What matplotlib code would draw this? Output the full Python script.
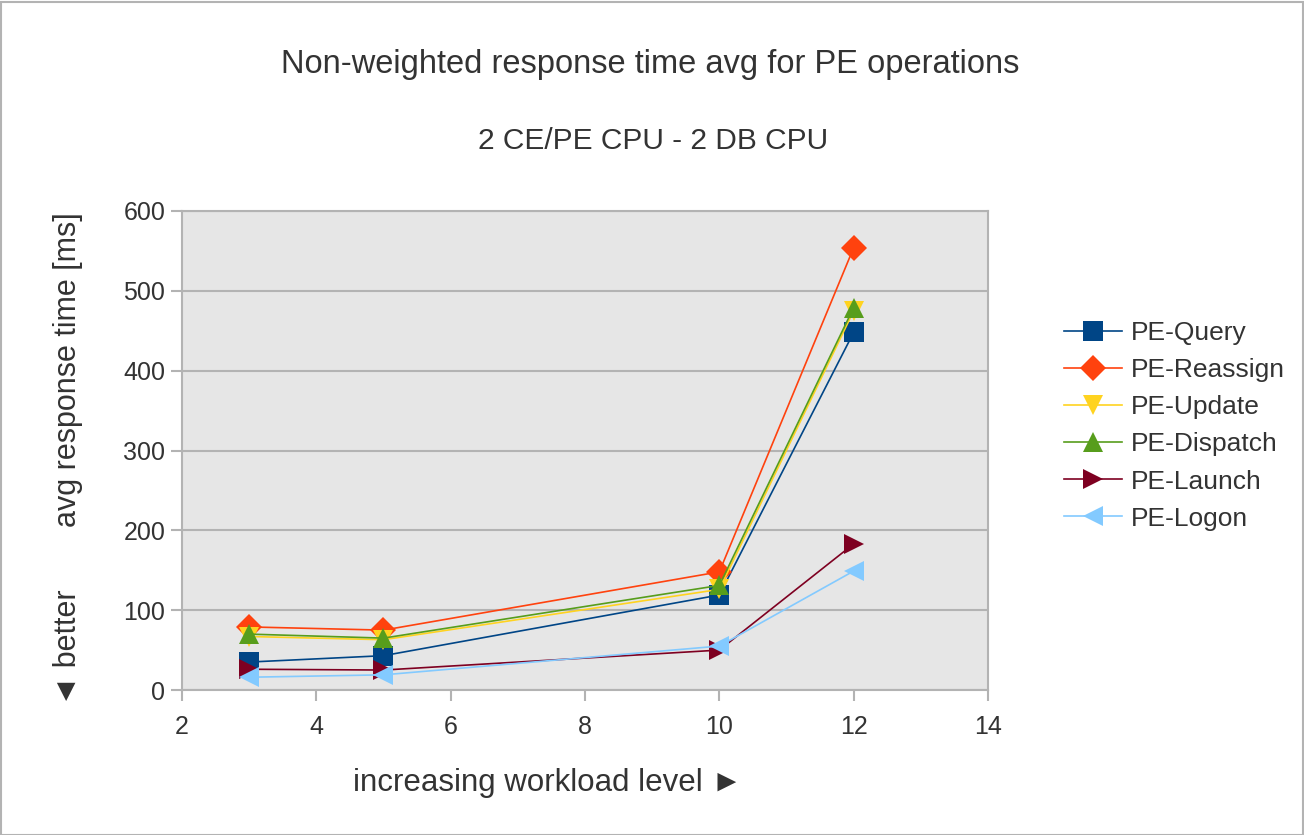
import matplotlib
matplotlib.use("Agg")
import matplotlib.pyplot as plt
from matplotlib.patches import Rectangle

plt.rcParams['font.family'] = ['Liberation Sans', 'DejaVu Sans']

workload = [3, 5, 10, 12]
series_names = ["PE-Query", "PE-Reassign", "PE-Update", "PE-Dispatch", "PE-Launch", "PE-Logon"]
pe_query = [35, 43, 119, 448]
pe_reassign = [79, 75, 148, 554]
pe_update = [67, 63, 126, 475]
pe_dispatch = [70, 65, 131, 479]
pe_launch = [26, 25, 50, 183]
pe_logon = [16, 19, 55, 149]
values = [pe_query, pe_reassign, pe_update, pe_dispatch, pe_launch, pe_logon]

colors = ["#004586", "#ff420e", "#ffd320", "#579d1c", "#7e0021", "#83caff"]
markers = ["s", "D", "v", "^", ">", "<"]
msizes = [14, 13, 14, 14, 14, 14]

fig = plt.figure(figsize=(13.04, 8.35), dpi=100)
ax = fig.add_axes([182/1304, 1 - 690/835, (988-182)/1304, (690-211)/835])
ax.set_facecolor("#e6e6e6")

for name, vals, c, m, ms in zip(series_names, values, colors, markers, msizes):
    ax.plot(workload, vals, color=c, marker=m, markersize=ms, linewidth=1.2,
            markeredgewidth=0, label=name)

ax.set_xlim(2, 14)
ax.set_ylim(0, 600)
ax.set_xticks([2, 4, 6, 8, 10, 12, 14])
ax.set_yticks([0, 100, 200, 300, 400, 500, 600])
ax.yaxis.grid(True, color="#b3b3b3", linewidth=1.5)
ax.set_axisbelow(True)
for sp in ax.spines.values():
    sp.set_color("#b3b3b3")
    sp.set_linewidth(1.5)
ax.tick_params(axis='both', colors="#b3b3b3", labelcolor="#333333", labelsize=18,
               length=8, width=1.5, direction='out')
ax.tick_params(axis='x', pad=10)
ax.tick_params(axis='y', pad=4)

fig.text(650/1304, 1 - 64/835, "Non-weighted response time avg for PE operations",
         ha='center', va='center', fontsize=23.5, color="#333333")
fig.text(653/1304, 1 - 141/835, "2 CE/PE CPU - 2 DB CPU",
         ha='center', va='center', fontsize=21.5, color="#333333")
fig.text(548/1304, 1 - 783/835, "increasing workload level ►",
         ha='center', va='center', fontsize=22.5, color="#333333")
fig.text(68/1304, 1 - 370/835, "avg response time [ms]", rotation=90,
         ha='center', va='center', fontsize=22, color="#333333")
fig.text(68/1304, 1 - 648/835, "◄ better", rotation=90,
         ha='center', va='center', fontsize=22, color="#333333")

leg = ax.legend(loc='upper left', bbox_to_anchor=(1040/1304, 1 - 297/835),
                bbox_transform=fig.transFigure, frameon=False, fontsize=19,
                handlelength=2.2, labelspacing=0.5, handletextpad=0.35,
                markerscale=1.0)
for t in leg.get_texts():
    t.set_color("#333333")

fig.patches.append(Rectangle((0.5/1304, 0.5/835), 1 - 2/1304, 1 - 2/835,
                             transform=fig.transFigure, fill=False,
                             edgecolor="#b3b3b3", linewidth=1.5))

fig.savefig("out.png", dpi=100)
